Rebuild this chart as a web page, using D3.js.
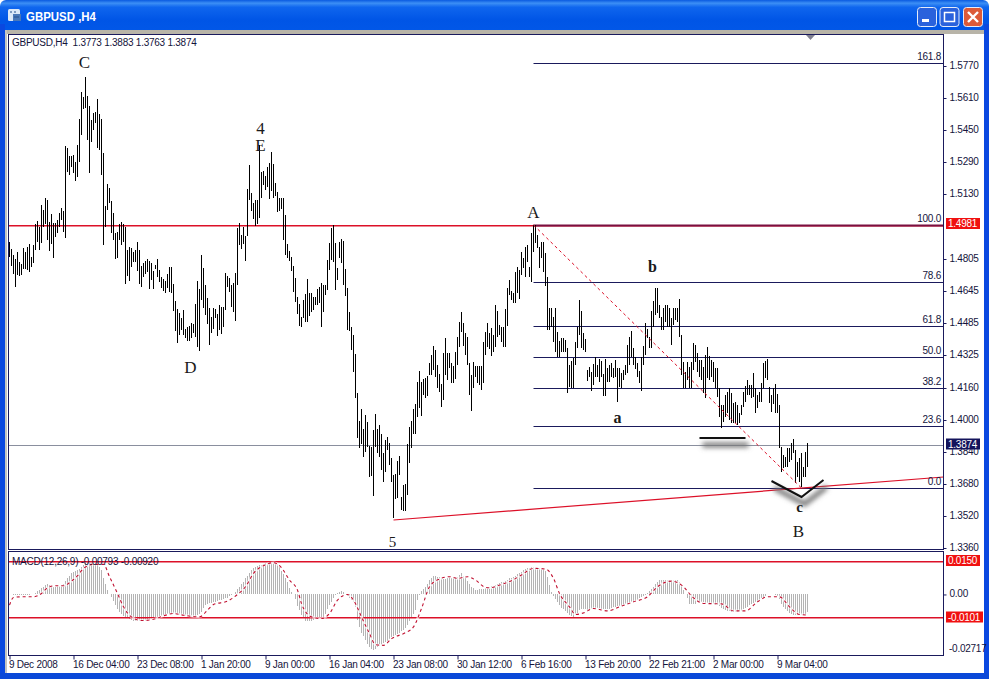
<!DOCTYPE html>
<html><head><meta charset="utf-8">
<script src="https://cdnjs.cloudflare.com/ajax/libs/d3/7.8.5/d3.min.js"></script>
<style>html,body{margin:0;padding:0;background:#fff;overflow:hidden}svg{display:block}</style>
</head><body><div id="c"></div>
<script>
// H4 bar highs and lows, in price x 10000
const highs=[14890,14855,14825,14805,14840,14790,14780,14860,14840,14865,14880,14815,14875,14980,14995,14965,15075,15050,15110,15100,14990,15030,14985,14985,15000,15035,15060,15045,15370,15360,15320,15320,15325,15290,15375,15505,15640,15615,15715,15620,15570,15500,15535,15540,15605,15530,15505,15335,15070,15180,15160,15095,15035,14935,14940,14980,14990,14980,14965,14850,14865,14860,14840,14850,14890,14850,14770,14785,14795,14805,14795,14785,14745,14775,14805,14750,14715,14705,14695,14730,14765,14765,14680,14595,14555,14535,14510,14550,14455,14465,14470,14485,14480,14580,14695,14655,14825,14760,14675,14610,14560,14515,14560,14555,14530,14575,14565,14565,14735,14720,14710,14675,14685,14735,14960,14985,14925,14965,14920,15155,15275,15135,15085,15100,15100,15375,15240,15245,15220,15265,15285,15340,15280,15185,15140,15110,15110,15110,15025,14880,14845,14815,14770,14710,14615,14580,14515,14600,14630,14705,14635,14635,14615,14615,14655,14665,14685,14675,14675,14800,14885,14960,14975,14885,14760,14890,14905,14895,14755,14660,14540,14465,14425,14330,14135,13995,14055,13955,14025,13990,13870,13865,13950,14030,13955,13975,13930,13835,13900,13915,13885,13810,13725,13730,13795,13820,13615,13675,13680,13880,13965,13995,14055,14080,14190,14245,14190,14205,14210,14220,14285,14325,14370,14350,14275,14230,14180,14335,14410,14335,14335,14285,14270,14340,14415,14490,14540,14485,14435,14415,14285,14225,14290,14270,14270,14270,14270,14390,14440,14485,14435,14460,14425,14575,14545,14475,14465,14465,14555,14660,14700,14645,14635,14740,14765,14750,14840,14810,14865,14875,14765,14935,14975,14975,14925,14865,14890,14890,14835,14715,14560,14560,14515,14560,14440,14395,14410,14410,14400,14360,14275,14295,14310,14390,14465,14600,14545,14435,14405,14250,14265,14240,14280,14315,14275,14305,14295,14230,14305,14260,14275,14285,14260,14300,14260,14260,14235,14250,14275,14375,14415,14445,14360,14315,14285,14245,14315,14370,14485,14455,14415,14545,14595,14660,14660,14575,14515,14560,14575,14575,14560,14510,14560,14560,14560,14605,14425,14290,14240,14290,14265,14290,14385,14375,14335,14300,14300,14265,14325,14365,14320,14300,14290,14260,14260,14160,14075,14075,14125,14140,14160,14135,14085,14090,14075,14035,14075,14140,14170,14200,14175,14175,14235,14160,14125,14140,14185,14285,14295,14305,14165,14125,14160,14180,14130,14075,13865,13825,13815,13860,13860,13885,13905,13850,13790,13810,13835,13765,13840,13883];
const lows=[14815,14770,14730,14665,14725,14720,14725,14755,14755,14750,14740,14765,14785,14850,14890,14850,14885,14965,14980,14900,14845,14880,14810,14915,14935,14965,15000,14940,14910,15240,15225,15265,15235,15195,15215,15290,15425,15555,15560,15400,15235,15390,15450,15485,15360,15350,15225,14875,14965,15050,15085,14935,14900,14805,14810,14900,14875,14890,14680,14720,14695,14765,14790,14790,14745,14680,14665,14715,14730,14740,14655,14700,14655,14755,14715,14690,14660,14645,14635,14660,14640,14635,14545,14445,14385,14425,14450,14425,14410,14395,14395,14410,14435,14415,14365,14345,14600,14560,14525,14480,14375,14435,14455,14510,14420,14450,14430,14465,14550,14665,14640,14565,14540,14495,14675,14875,14855,14880,14795,14920,15100,15045,15005,14970,14980,15010,15110,15175,15150,15165,15105,15145,15110,15120,15040,15045,15055,14900,14825,14810,14795,14745,14640,14590,14530,14470,14465,14510,14490,14490,14520,14540,14550,14575,14575,14585,14465,14540,14625,14650,14750,14800,14790,14650,14700,14810,14785,14675,14620,14450,14445,14350,14240,14110,13910,13860,13880,13815,13840,13865,13715,13720,13620,13865,13835,13815,13750,13690,13740,13850,13775,13690,13510,13605,13610,13725,13550,13545,13545,13625,13785,13860,13930,13930,14015,14060,14020,14125,14110,14120,14225,14225,14250,14215,14160,14140,14065,14100,14225,14200,14260,14185,14185,14205,14275,14365,14440,14370,14325,14275,14125,14045,14160,14215,14185,14175,14150,14185,14325,14365,14355,14320,14340,14365,14415,14425,14390,14365,14365,14470,14625,14600,14585,14585,14635,14605,14725,14760,14715,14790,14715,14690,14840,14885,14860,14760,14810,14740,14670,14450,14450,14465,14390,14340,14315,14315,14340,14340,14340,14135,14165,14160,14160,14275,14360,14425,14360,14350,14340,14195,14215,14145,14175,14215,14215,14190,14215,14120,14120,14190,14190,14215,14210,14215,14090,14165,14160,14200,14225,14235,14275,14315,14275,14255,14215,14185,14145,14275,14325,14410,14360,14360,14465,14525,14535,14510,14450,14450,14490,14465,14465,14375,14475,14500,14490,14415,14225,14160,14160,14200,14160,14160,14250,14290,14240,14215,14200,14135,14110,14210,14200,14215,14190,14160,14115,14015,13960,13990,14015,14035,14000,13985,13985,13985,13975,13985,14025,14065,14090,14125,14125,14110,14115,14035,14060,14090,14090,14160,14210,14200,14085,14040,14080,14035,14035,13860,13740,13760,13765,13765,13790,13800,13835,13685,13715,13690,13665,13715,13715,13763];
// MACD histogram per bar, x 100000
const macd=[0,0,-15,-15,-30,-30,-30,-30,-30,-15,-15,0,30,75,135,210,270,345,435,450,420,390,345,345,360,390,420,450,600,750,840,945,1020,1050,1080,1140,1230,1320,1410,1440,1425,1410,1395,1380,1320,1230,1095,720,450,195,0,-120,-285,-450,-660,-780,-885,-960,-1020,-1065,-1110,-1140,-1170,-1185,-1200,-1200,-1200,-1185,-1170,-1155,-1125,-1095,-1065,-1035,-1005,-975,-945,-915,-885,-870,-855,-855,-855,-870,-885,-900,-915,-930,-960,-990,-1005,-1005,-990,-975,-930,-885,-780,-600,-450,-405,-390,-375,-360,-330,-300,-270,-240,-210,-180,-150,-90,-30,30,120,240,345,465,570,720,840,960,1080,1200,1245,1275,1305,1335,1365,1395,1425,1455,1470,1455,1410,1350,1245,1050,900,720,540,300,120,0,-210,-510,-705,-900,-1050,-1200,-1200,-1185,-1170,-1140,-1110,-1080,-1050,-1020,-990,-855,-630,-480,-330,-150,-30,45,105,150,90,0,-60,-150,-255,-360,-555,-1155,-1455,-1710,-1860,-2055,-2205,-2355,-2460,-2505,-2430,-2370,-2310,-2250,-2190,-2130,-2070,-1980,-1920,-1860,-1800,-1755,-1710,-1650,-1590,-1500,-1380,-1200,-1050,-855,-705,-255,-30,150,240,345,450,645,750,810,810,795,780,750,690,675,720,780,750,750,765,795,870,945,840,720,600,450,345,270,195,195,225,240,240,270,330,345,360,390,420,450,495,540,570,615,645,720,750,795,840,900,945,1020,1080,1140,1170,1200,1215,1215,1200,1185,1170,1140,1140,1050,795,420,120,-60,-210,-360,-480,-600,-660,-735,-825,-900,-960,-990,-900,-810,-705,-630,-630,-660,-705,-660,-630,-600,-600,-600,-615,-630,-630,-645,-660,-645,-615,-570,-540,-525,-510,-495,-480,-435,-405,-360,-330,-300,-270,-240,-180,-120,-60,-15,75,150,240,345,450,540,630,660,660,660,645,645,645,645,645,630,570,390,195,0,-180,-405,-435,-435,-405,-360,-330,-330,-345,-375,-390,-405,-420,-435,-450,-465,-510,-600,-660,-705,-735,-750,-765,-765,-765,-765,-750,-720,-660,-600,-540,-480,-435,-375,-330,-285,-240,-180,-135,-60,15,30,15,0,-30,-75,-210,-405,-555,-660,-750,-840,-885,-900,-915,-930,-930,-930,-930,-900,-793];
// MACD signal line read at these bars, x 100000
const signalBars=[0,2,6,12,16,19,23,27,31,34,37,42,47,50,54,57,61,66,72,77,82,87,95,99,102,109,114,118,122,127,132,136,140,144,146,151,156,160,164,169,172,176,180,183,187,191,198,202,206,210,215,220,224,229,233,238,240,246,251,256,262,268,272,275,280,283,287,292,299,305,312,319,324,331,336,342,347,356,362,368,374,379,385,390,395,399];
const signalVals=[-480,-135,-105,-105,45,300,390,390,600,840,1170,1350,1350,795,45,-555,-1005,-1170,-1110,-960,-855,-930,-1005,-705,-450,-300,0,345,945,1290,1425,1200,645,195,-405,-1005,-1080,-855,-255,0,-255,-1005,-1755,-2250,-2280,-1980,-1710,-1455,-630,345,690,795,720,795,645,315,300,450,615,870,1170,1140,720,45,-555,-900,-825,-630,-735,-555,-330,-105,345,600,420,-150,-405,-420,-735,-735,-330,-105,-105,-555,-900,-920];

const timeLabels=["9 Dec 2008","16 Dec 04:00","23 Dec 08:00","1 Jan 20:00","9 Jan 00:00","16 Jan 04:00","23 Jan 08:00","30 Jan 12:00","6 Feb 16:00","13 Feb 20:00","22 Feb 21:00","2 Mar 00:00","9 Mar 04:00"];
const timeTickBars=[0,32,64,96,128,160,192,224,256,288,320,352,384];
const priceTicks=[1.5770,1.5610,1.5450,1.5290,1.5130,1.4805,1.4645,1.4485,1.4325,1.4160,1.4000,1.3840,1.3680,1.3520,1.3360];
const fibLevels=["161.8","100.0","78.6","61.8","50.0","38.2","23.6","0.0"];
const fibPrices=[1.5785,1.4975,1.4690,1.4468,1.4315,1.4160,1.3970,1.3660];
const hLevel=1.4975, lastPrice=1.3874;
const trendBars=[192,467], trendPrices=[1.3500,1.3715];
const diagBars=[262,396], diagPrices=[1.4975,1.3660];
const macdLevels=[0.0150,-0.0101];
const waveLabels=["C","4","E","D","5","A","b","a","c","B"];
const waveBars=[37.5,125.5,125.5,90.5,191.5,262,321.5,304,395,394.5];
const wavePrices=[1.5762,1.5430,1.5347,1.4235,1.3364,1.5008,1.4738,1.3985,1.3540,1.3417];
const waveSizes=[17,17,17,17,15,17,16,16,15,17];
const waveWeights=["normal","normal","normal","normal","normal","normal","bold","bold","bold","normal"];
const markBars=[345,368], markPrices=[1.3910,1.3910];
const vBars=[381,396,407], vPrices=[1.3695,1.3615,1.3700];

const W=989,H=679, PL=8.5,PR=943.5,MT=34.5,MB=549.5,ST=551.5,SB=655.5;
const svg=d3.select("#c").append("svg").attr("width",W).attr("height",H);
const defs=svg.append("defs");
const grad=defs.append("linearGradient").attr("id","tb").attr("x1",0).attr("y1",0).attr("x2",0).attr("y2",1);
[[0,"#0a5ae0"],[0.08,"#3c8ff5"],[0.18,"#0f66ee"],[0.5,"#0055e6"],[0.85,"#0258e8"],[1,"#0044c8"]].forEach(s=>grad.append("stop").attr("offset",s[0]).attr("stop-color",s[1]));
defs.append("filter").attr("id","blur").attr("filterUnits","userSpaceOnUse").attr("x",0).attr("y",0).attr("width",W).attr("height",H).append("feGaussianBlur").attr("stdDeviation",2.4);

// window frame
svg.append("rect").attr("width",W).attr("height",H).attr("fill","#fff");
svg.append("rect").attr("x",0).attr("y",0).attr("width",W).attr("height",40).attr("rx",6).attr("fill","url(#tb)");
svg.append("rect").attr("x",0).attr("y",24).attr("width",5).attr("height",H-24).attr("fill","#0a48e0");
svg.append("rect").attr("x",984).attr("y",24).attr("width",5).attr("height",H-24).attr("fill","#0a48e0");
svg.append("rect").attr("x",0).attr("y",673).attr("width",W).attr("height",6).attr("fill","#0a48d8");
svg.append("rect").attr("x",5).attr("y",30).attr("width",979).attr("height",643).attr("fill","#fff");
svg.append("rect").attr("x",5).attr("y",30).attr("width",979).attr("height",4).attr("fill","#b8b4a8");
svg.append("rect").attr("x",5).attr("y",30).attr("width",2).attr("height",643).attr("fill","#c4c4c0");
// title bar contents
const ic=svg.append("g");
ic.append("rect").attr("x",8).attr("y",9).attr("width",12).attr("height",12).attr("rx",1.5).attr("fill","#dbe8f8");
ic.append("rect").attr("x",13).attr("y",14).attr("width",8).attr("height",7).attr("fill","#4a78b8");
ic.append("path").attr("d","M10 12h2M14 12h2M14 17h5").attr("stroke","#24508c").attr("fill","none");
svg.append("text").attr("x",26).attr("y",21).attr("fill","#fff").attr("font-family","'Liberation Sans'").attr("font-weight","bold").attr("font-size",13).attr("textLength",70).attr("lengthAdjust","spacingAndGlyphs").text("GBPUSD ,H4");
[[917,"#2a62dc"],[939.5,"#2a62dc"],[963,"#dc5a38"]].forEach(b=>svg.append("rect").attr("x",b[0]+.5).attr("y",7.5).attr("width",19).attr("height",19).attr("rx",3).attr("fill",b[1]).attr("stroke","#e4ecfa"));
svg.append("rect").attr("x",922).attr("y",19).attr("width",7).attr("height",3).attr("fill","#fff");
svg.append("rect").attr("x",944.5).attr("y",12.5).attr("width",10).attr("height",9).attr("fill","none").attr("stroke","#fff").attr("stroke-width",1.5);
svg.append("path").attr("d","M968 12L978 22M978 12L968 22").attr("stroke","#fff").attr("stroke-width",2.4);

// scales
const x=d3.scaleLinear().domain([0,467]).range([9.5,943.5]);
const y=d3.scaleLinear().domain([1.593,1.3355]).range([34,549]);
const ym=d3.scaleLinear().domain([0.0150,-0.0101]).range([561,617]);

const NAVY="#1a1a5c",RED="#dc1028",TXT="#14143c",FONT="'Liberation Sans'",FS=10,LS="-0.25px";
const label=s=>s.attr("font-family",FONT).attr("font-size",FS).attr("letter-spacing",LS);
const main=svg.append("g");
// red horizontal, grey price line
main.append("line").attr("x1",PL).attr("x2",PR).attr("y1",y(hLevel)+.7).attr("y2",y(hLevel)+.7).attr("stroke",RED).attr("stroke-width",1.4);
main.append("line").attr("x1",PL).attr("x2",PR).attr("y1",Math.round(y(lastPrice))+.5).attr("y2",Math.round(y(lastPrice))+.5).attr("stroke","#8a8f9e");
// fib lines
main.selectAll(".fib").data(fibLevels).join("line").attr("x1",x(diagBars[0])).attr("x2",PR)
 .attr("y1",(d,i)=>Math.round(y(fibPrices[i]))+.5).attr("y2",(d,i)=>Math.round(y(fibPrices[i]))+.5)
 .attr("stroke",(d,i)=>i==1?"#7a1040":NAVY).attr("stroke-width",(d,i)=>i==1?2:1);
// trend line
main.append("line").attr("x1",x(trendBars[0])).attr("x2",x(trendBars[1])).attr("y1",y(trendPrices[0])).attr("y2",y(trendPrices[1])).attr("stroke",RED).attr("stroke-width",1.2);
// bars
main.append("g").selectAll("line").data(highs).join("line").attr("shape-rendering","crispEdges")
 .attr("x1",(d,i)=>x(i)).attr("x2",(d,i)=>x(i)).attr("y1",d=>y(d/10000)).attr("y2",(d,i)=>y(lows[i]/10000)).attr("stroke","#000");
// diagonal dashed
main.append("line").attr("x1",x(diagBars[0])).attr("x2",x(diagBars[1])).attr("y1",y(diagPrices[0])).attr("y2",y(diagPrices[1])).attr("stroke",RED).attr("stroke-dasharray","3 3").attr("stroke-width",1);
// fib labels
main.selectAll(".fl").data(fibLevels).join("text").attr("x",941).attr("y",(d,i)=>y(fibPrices[i])-3).attr("text-anchor","end").call(label).attr("fill",TXT).text(d=>d);
// hand drawn marks
const lineGen=d3.line().x(d=>x(d[0])).y(d=>y(d[1]));
const mk=d3.zip(markBars,markPrices), vv=d3.zip(vBars,vPrices);
[mk,vv].forEach(pts=>{
 main.append("path").attr("d",lineGen(pts)).attr("transform","translate(3,7)").attr("fill","none").attr("stroke","#777").attr("stroke-width",5).attr("filter","url(#blur)");
 main.append("path").attr("d",lineGen(pts)).attr("fill","none").attr("stroke","#111").attr("stroke-width",2);
});
// wave labels
main.selectAll(".w").data(waveLabels).join("text").attr("x",(d,i)=>x(waveBars[i])).attr("y",(d,i)=>y(wavePrices[i])).attr("text-anchor","middle")
 .attr("font-family","'Liberation Serif'").attr("font-size",(d,i)=>waveSizes[i]).attr("font-weight",(d,i)=>waveWeights[i]).attr("fill","#1a1a1a").text(d=>d);
// triangle
main.append("path").attr("d",d3.line()([[806,35],[815,35],[810.5,40]])+"Z").attr("fill","#808090");

// price axis
const ya=svg.append("g").attr("transform",`translate(${PR},0)`).call(d3.axisRight(y).tickValues(priceTicks).tickSize(3).tickPadding(3).tickFormat(d3.format(".4f")));
ya.select(".domain").remove();
ya.selectAll("line").attr("stroke",NAVY);
ya.selectAll("text").call(label).attr("fill",TXT).attr("dy","0.2em");
function tag(py,w,col,txt){
 svg.append("rect").attr("x",946).attr("y",py-5.5).attr("width",w).attr("height",11).attr("fill",col);
 svg.append("text").attr("x",948).attr("y",py+3.5).call(label).attr("fill","#fff").text(txt);
}
tag(223.5,34,"#f01010","1.4981");
tag(444,34,"#14145c","1.3874");

svg.append("text").attr("x",12).attr("y",46).call(label).attr("fill",TXT).attr("xml:space","preserve").text("GBPUSD,H4  1.3773 1.3883 1.3763 1.3874");

// MACD pane
const sub=svg.append("g");
sub.append("g").selectAll("line").data(macd).join("line").attr("shape-rendering","crispEdges")
 .attr("x1",(d,i)=>x(i)).attr("x2",(d,i)=>x(i)).attr("y1",ym(0)).attr("y2",d=>ym(d/100000)).attr("stroke","#b4b4b4");
sub.selectAll(".ml").data(macdLevels).join("line").attr("x1",PL).attr("x2",PR).attr("y1",d=>Math.round(ym(d))+.7).attr("y2",d=>Math.round(ym(d))+.7).attr("stroke",RED).attr("stroke-width",1.4);
const sigLine=d3.line().x((d,i)=>x(signalBars[i])).y(d=>ym(d/100000)).curve(d3.curveMonotoneX);
sub.append("path").attr("d",sigLine(signalVals)).attr("fill","none").attr("stroke","#fff").attr("stroke-width",2.5).attr("opacity",.7);
sub.append("path").attr("d",sigLine(signalVals)).attr("fill","none").attr("stroke","#c01030").attr("stroke-width",1.1).attr("stroke-dasharray","3 3");
sub.append("text").attr("x",12).attr("y",565).call(label).attr("fill",TXT).text("MACD(12,26,9) -0.00793 -0.00920");
const ma=svg.append("g").attr("transform",`translate(${PR},0)`).call(d3.axisRight(ym).tickValues([0]).tickSize(3).tickPadding(3).tickFormat(d3.format(".2f")));
ma.select(".domain").remove();ma.selectAll("line").attr("stroke",NAVY);
ma.selectAll("text").call(label).attr("fill",TXT).attr("dy","0.2em");
svg.append("text").attr("x",949).attr("y",ym(-0.02717)-3).call(label).attr("fill",TXT).text("-0.02717");
tag(ym(0.0150)-0.5,34,"#f01010","0.0150");
tag(ym(-0.0101),37,"#f01010","-0.0101");

// pane frames
svg.append("rect").attr("x",PL).attr("y",MT).attr("width",PR-PL).attr("height",MB-MT).attr("fill","none").attr("stroke",NAVY);
svg.append("rect").attr("x",PL).attr("y",ST).attr("width",PR-PL).attr("height",SB-ST).attr("fill","none").attr("stroke",NAVY);

// time axis
const xa=svg.append("g").attr("transform",`translate(0,${SB})`).call(d3.axisBottom(x).tickValues(timeTickBars).tickSize(4).tickPadding(1).tickFormat((d,i)=>timeLabels[i]));
xa.select(".domain").remove();xa.selectAll("line").attr("stroke",NAVY);
xa.selectAll("text").attr("text-anchor","start").attr("dx",-1).call(label).attr("fill",TXT);
</script></body></html>
